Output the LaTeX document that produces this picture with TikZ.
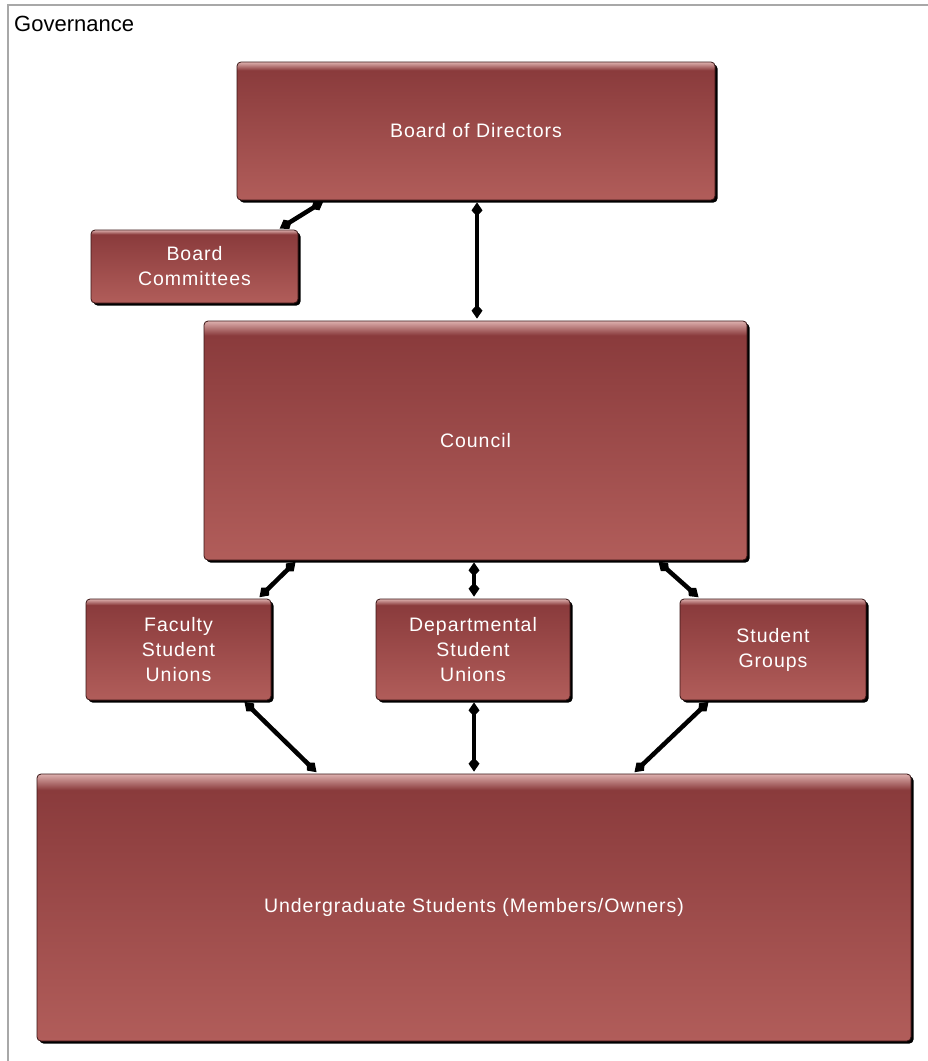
\documentclass[tikz,border=0pt]{standalone}
\usepackage{fontspec}
\setmainfont{Liberation Sans}
\newfontfamily\boxfont[LetterSpace=5]{Liberation Sans}
\usetikzlibrary{arrows.meta,shadows}
\definecolor{boxtop}{HTML}{8A3B3C}
\definecolor{boxbot}{HTML}{B15D5A}
\definecolor{boxlight}{HTML}{DDB0AE}
\definecolor{boxedge}{HTML}{3A1515}
\definecolor{framegray}{HTML}{A8A8A8}
\pgfdeclareverticalshading{boxshade}{100bp}{color(0bp)=(boxbot); color(25bp)=(boxbot); color(72bp)=(boxtop); color(75bp)=(boxlight); color(100bp)=(boxlight)}
\tikzset{
  gbox/.style={shading=boxshade, draw=boxedge, line width=0.8pt, rounded corners=4pt,
    text=white, font=\boxfont\fontsize{19.5}{25}\selectfont, align=center, inner sep=0pt,
    drop shadow={shadow xshift=2.5pt, shadow yshift=-2.5pt, fill=black, opacity=1}},
  conn/.style={line width=4.5pt, {Kite[length=14pt,width=11pt,inset=6pt]}-{Kite[length=14pt,width=11pt,inset=6pt]},
    shorten >=2pt, shorten <=2pt}
}
\begin{document}
\begin{tikzpicture}[x=1pt,y=-1pt]
\useasboundingbox (0,0) rectangle (928,1061);
\fill[white] (0,0) rectangle (928,1061);
\draw[framegray, line width=1.5pt] (8,1061) -- (8,5) -- (928,5);
\node[anchor=west, font=\fontsize{22}{25}\selectfont, inner sep=0pt] (title) at (14,24) {Governance};

\node[gbox, minimum width=478pt, minimum height=138pt] (bod) at (476,131) {Board of Directors};
\node[gbox, minimum width=207pt, minimum height=73pt] (bc) at (194.5,266.5) {Board\\Committees};
\node[gbox, minimum width=543pt, minimum height=239pt] (council) at (475.5,440.5) {Council};
\node[gbox, minimum width=185pt, minimum height=101pt] (fsu) at (178.5,649.5) {Faculty\\Student\\Unions};
\node[gbox, minimum width=194pt, minimum height=101pt] (dsu) at (473,649.5) {Departmental\\Student\\Unions};
\node[gbox, minimum width=186pt, minimum height=101pt] (sg) at (773,649.5) {Student\\Groups};
\node[gbox, minimum width=874pt, minimum height=267pt] (ug) at (474,907.5) {Undergraduate Students (Members/Owners)};

\draw[conn] ([xshift=-151pt]bod.south) -- ([xshift=83.5pt]bc.north);
\draw[conn] ([xshift=1pt]bod.south) -- ([xshift=1.5pt]council.north);
\draw[conn] ([xshift=-178.5pt]council.south) -- ([xshift=79.5pt]fsu.north);
\draw[conn] ([xshift=-1.5pt]council.south) -- ([xshift=1pt]dsu.north);
\draw[conn] ([xshift=181.5pt]council.south) -- ([xshift=-73pt]sg.north);
\draw[conn] ([xshift=64.5pt]fsu.south) -- ([xshift=-156pt]ug.north);
\draw[conn] ([xshift=1pt]dsu.south) -- ([xshift=0pt]ug.north);
\draw[conn] ([xshift=-63pt]sg.south) -- ([xshift=159pt]ug.north);
\end{tikzpicture}
\end{document}
